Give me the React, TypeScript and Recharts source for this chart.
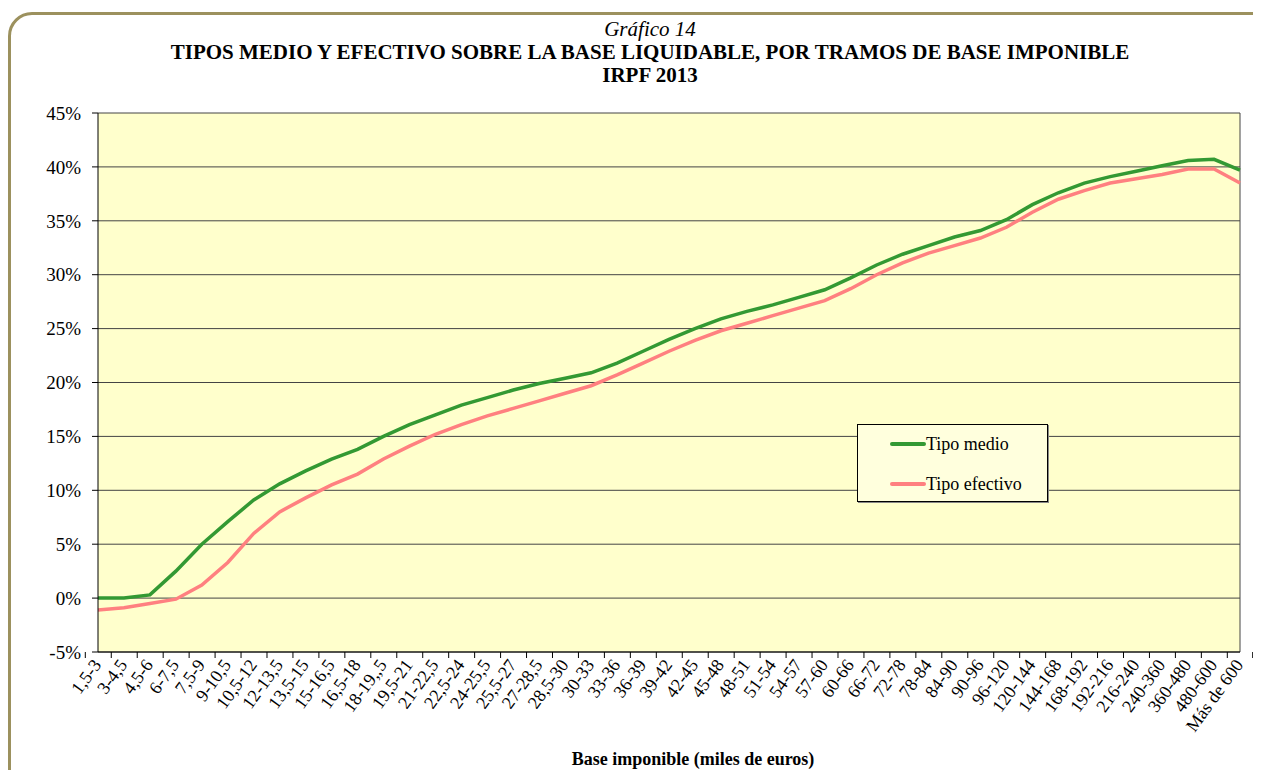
import React from 'react';
import { LineChart, Line, XAxis, YAxis, CartesianGrid, Legend } from 'recharts';

const tramos = [
  '1,5-3', '3-4,5', '4,5-6', '6-7,5', '7,5-9', '9-10,5', '10,5-12', '12-13,5', '13,5-15', '15-16,5',
  '16,5-18', '18-19,,5', '19,5-21', '21-22,5', '22,5-24', '24-25,5', '25,5-27', '27-28,5', '28,5-30',
  '30-33', '33-36', '36-39', '39-42', '42-45', '45-48', '48-51', '51-54', '54-57', '57-60',
  '60-66', '66-72', '72-78', '78-84', '84-90', '90-96',
  '96-120', '120-144', '144-168', '168-192', '192-216', '216-240',
  '240-360', '360-480', '480-600', 'Más de 600',
];

// % sobre base liquidable
const tipoMedio = [
  0.0, 0.0, 0.3, 2.5, 5.0, 7.1, 9.1, 10.6, 11.8, 12.9, 13.8, 15.0, 16.1, 17.0, 17.9, 18.6, 19.3, 19.9, 20.4,
  20.9, 21.8, 22.9, 24.0, 25.0, 25.9, 26.6, 27.2, 27.9, 28.6,
  29.7, 30.9, 31.9, 32.7, 33.5, 34.1,
  35.1, 36.5, 37.6, 38.5, 39.1, 39.6,
  40.1, 40.6, 40.7, 39.7,
];
const tipoEfectivo = [
  -1.1, -0.9, -0.5, -0.1, 1.2, 3.3, 6.0, 8.0, 9.3, 10.5, 11.5, 12.9, 14.1, 15.2, 16.1, 16.9, 17.6, 18.3, 19.0,
  19.7, 20.7, 21.8, 22.9, 23.9, 24.8, 25.5, 26.2, 26.9, 27.6,
  28.7, 30.0, 31.1, 32.0, 32.7, 33.4,
  34.4, 35.8, 37.0, 37.8, 38.5, 38.9,
  39.3, 39.8, 39.8, 38.5,
];
const yTicks = [-5, 0, 5, 10, 15, 20, 25, 30, 35, 40, 45];

const W = 1261;
const H = 778;
const M = { top: 113, right: 21, bottom: 0, left: 0 };
const Y_W = 98;
const X_H = 126;
const PLOT_W = W - M.left - M.right - Y_W;
const BAND = PLOT_W / tramos.length;
const FONT = "'Liberation Serif', 'Times New Roman', Times, serif";
const GREEN = '#339933';
const PINK = '#FF8080';

const data = tramos.map((t, i) => ({ tramo: t, medio: tipoMedio[i], efectivo: tipoEfectivo[i] }));

function XTick(props: any) {
  const { x, y, payload, index } = props;
  const top = y - 8;
  const ax = x + 4;
  const ay = y + 5;
  return (
    <g>
      <line x1={x - BAND / 2} x2={x - BAND / 2} y1={top} y2={top + 6} stroke="#000" />
      {index === tramos.length - 1 && (
        <line x1={x + BAND / 2} x2={x + BAND / 2} y1={top} y2={top + 6} stroke="#000" />
      )}
      <text
        x={ax}
        y={ay}
        textAnchor="end"
        transform={`rotate(-54, ${ax}, ${ay})`}
        fontFamily={FONT}
        fontSize={18}
        fill="#000"
      >
        {payload.value}
      </text>
    </g>
  );
}

function LegendBox() {
  const items = [
    { name: 'Tipo medio', color: GREEN },
    { name: 'Tipo efectivo', color: PINK },
  ];
  return (
    <div
      style={{
        width: 191, height: 78, boxSizing: 'border-box', border: '1px solid #000',
        background: '#FFFFDD', padding: '9px 0 0 32px', fontFamily: FONT, fontSize: 18,
        boxShadow: '1px 1px 0 #888',
      }}
    >
      {items.map((it) => (
        <div key={it.name} style={{ display: 'flex', alignItems: 'center', height: 20, marginBottom: 20 }}>
          <span style={{ display: 'inline-block', width: 36, height: 3.5, background: it.color, borderRadius: 2 }} />
          <span style={{ color: '#000' }}>{it.name}</span>
        </div>
      ))}
    </div>
  );
}

export default function App() {
  return (
    <div style={{ position: 'relative', width: W, height: H, margin: -8, overflow: 'hidden', background: '#fff', fontFamily: FONT }}>
      <div
        style={{
          position: 'absolute', left: 8, top: 12, width: 1330, height: 790, boxSizing: 'border-box',
          border: '3px solid #9C915E', borderRadius: 24,
        }}
      />
      <div style={{ position: 'absolute', left: 0, width: 1300, top: 18, textAlign: 'center', color: '#000' }}>
        <div style={{ fontStyle: 'italic', fontSize: 21, lineHeight: '23px' }}>Gráfico 14</div>
        <div style={{ fontWeight: 'bold', fontSize: 21, lineHeight: '23px' }}>
          TIPOS MEDIO Y EFECTIVO SOBRE LA BASE LIQUIDABLE, POR TRAMOS DE BASE IMPONIBLE
        </div>
        <div style={{ fontWeight: 'bold', fontSize: 21, lineHeight: '23px' }}>IRPF 2013</div>
      </div>
      <div
        style={{
          position: 'absolute', left: 493, width: 400, top: 749, textAlign: 'center',
          fontWeight: 'bold', fontSize: 18, color: '#000',
        }}
      >
        Base imponible (miles de euros)
      </div>
      <div style={{ position: 'absolute', left: 0, top: 0 }}>
        <LineChart width={W} height={H} data={data} margin={M}>
          <CartesianGrid
            fill="#FFFFCC"
            stroke="#444"
            verticalCoordinatesGenerator={({ offset }: any) => [offset.left + offset.width]}
          />
          <XAxis
            dataKey="tramo"
            interval={0}
            height={X_H}
            tickLine={false}
            tickSize={6}
            tickMargin={2}
            axisLine={{ stroke: '#000' }}
            tick={<XTick />}
          />
          <YAxis
            width={Y_W}
            domain={[-5, 45]}
            ticks={yTicks}
            tickFormatter={(v: number) => `${v}%`}
            tickSize={6}
            tickMargin={11}
            axisLine={{ stroke: '#000' }}
            tickLine={{ stroke: '#000' }}
            tick={{ fontFamily: FONT, fontSize: 19, fill: '#000' }}
          />
          <Legend
            layout="vertical"
            verticalAlign="middle"
            align="center"
            content={() => <LegendBox />}
            wrapperStyle={{ left: 857, top: 424, width: 191, height: 78 }}
          />
          <Line type="linear" dataKey="medio" name="Tipo medio" stroke={GREEN} strokeWidth={3.5} dot={false} isAnimationActive={false} />
          <Line type="linear" dataKey="efectivo" name="Tipo efectivo" stroke={PINK} strokeWidth={3.5} dot={false} isAnimationActive={false} />
        </LineChart>
      </div>
    </div>
  );
}
